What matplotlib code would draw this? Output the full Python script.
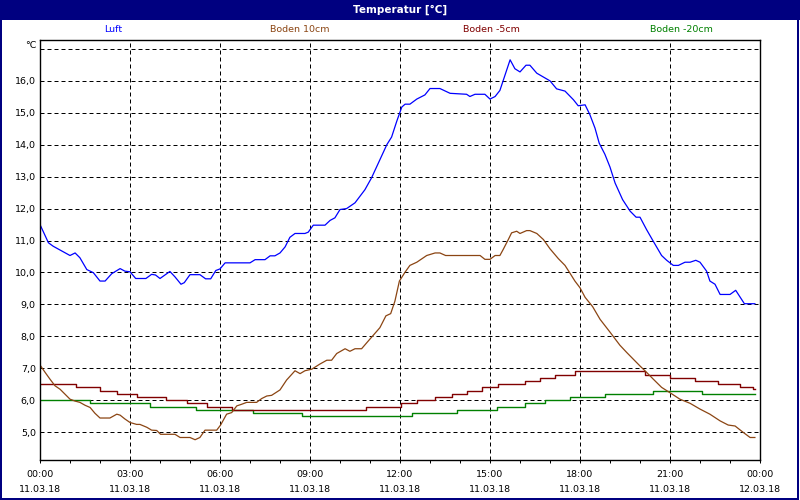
import matplotlib
matplotlib.use("Agg")
import matplotlib.pyplot as plt
import numpy as np
from matplotlib.patches import Rectangle
from matplotlib.ticker import MultipleLocator, FuncFormatter

# hours since 11.03.18 00:00
luft_t = [0.0, 0.28, 0.44, 1.0, 1.17, 1.33, 1.56, 1.78, 2.0, 2.17, 2.39, 2.67, 2.83, 3.0,
          3.19, 3.53, 3.72, 3.85, 4.0, 4.33, 4.5, 4.7, 4.81, 5.0, 5.33, 5.52, 5.69, 5.86,
          6.0, 6.17, 7.0, 7.17, 7.5, 7.67, 7.83, 8.0, 8.17, 8.33, 8.5, 8.83, 8.94, 9.11,
          9.5, 9.67, 9.83, 10.0, 10.22, 10.5, 10.83, 11.05, 11.33, 11.56, 11.72, 11.89,
          12.06, 12.17, 12.33, 12.56, 12.83, 13.0, 13.33, 13.67, 14.22, 14.33, 14.5,
          14.83, 15.0, 15.17, 15.33, 15.67, 15.83, 16.0, 16.2, 16.33, 16.56, 17.0, 17.22,
          17.5, 17.78, 17.94, 18.17, 18.33, 18.5, 18.64, 18.83, 19.0, 19.17, 19.42,
          19.67, 19.87, 20.0, 20.22, 20.44, 20.72, 20.89, 21.11, 21.28, 21.5, 21.67,
          21.86, 22.0, 22.22, 22.33, 22.5, 22.67, 23.0, 23.19, 23.48, 23.83]
luft = [11.5, 10.93, 10.82, 10.53, 10.61, 10.46, 10.09, 9.99, 9.73, 9.73, 9.96, 10.12,
        10.04, 10.02, 9.81, 9.81, 9.94, 9.92, 9.81, 10.03, 9.86, 9.63, 9.68, 9.93, 9.93,
        9.8, 9.8, 10.06, 10.11, 10.3, 10.3, 10.4, 10.4, 10.52, 10.52, 10.61, 10.8, 11.1,
        11.22, 11.22, 11.26, 11.48, 11.48, 11.63, 11.71, 11.97, 12.0, 12.18, 12.59,
        12.96, 13.53, 14.0, 14.24, 14.73, 15.18, 15.27, 15.27, 15.43, 15.56, 15.76,
        15.76, 15.61, 15.58, 15.51, 15.58, 15.58, 15.43, 15.51, 15.7, 16.66, 16.38,
        16.28, 16.49, 16.49, 16.24, 16.0, 15.75, 15.68, 15.41, 15.22, 15.25, 14.94,
        14.52, 14.05, 13.7, 13.3, 12.8, 12.28, 11.92, 11.73, 11.73, 11.34, 10.98, 10.53,
        10.38, 10.22, 10.22, 10.32, 10.32, 10.38, 10.32, 10.04, 9.73, 9.63, 9.31, 9.31,
        9.44, 9.02, 9.02]

boden10_t = [0.0, 0.17, 0.33, 0.5, 0.67, 0.83, 1.0, 1.17, 1.33, 1.5, 1.67, 1.83, 2.0,
             2.33, 2.56, 2.67, 2.83, 3.0, 3.22, 3.33, 3.56, 3.72, 3.89, 4.02, 4.5, 4.67,
             5.0, 5.17, 5.33, 5.5, 5.89, 6.02, 6.22, 6.39, 6.56, 6.72, 6.89, 7.22, 7.39,
             7.56, 7.72, 8.0, 8.22, 8.5, 8.67, 8.83, 9.06, 9.33, 9.56, 9.72, 9.89, 10.17,
             10.33, 10.5, 10.72, 10.94, 11.33, 11.53, 11.69, 11.83, 11.98, 12.17, 12.33,
             12.56, 12.89, 13.17, 13.33, 13.52, 14.67, 14.83, 15.0, 15.17, 15.33, 15.44,
             15.61, 15.72, 15.89, 16.0, 16.22, 16.33, 16.56, 16.78, 17.0, 17.28, 17.5,
             17.67, 17.83, 18.0, 18.17, 18.42, 18.67, 19.0, 19.33, 19.56, 19.78, 20.0,
             20.22, 20.44, 20.72, 21.02, 21.33, 21.67, 22.0, 22.33, 22.67, 22.94, 23.17,
             23.44, 23.67, 23.83]
boden10 = [7.1, 6.87, 6.66, 6.45, 6.34, 6.19, 6.03, 5.97, 5.93, 5.84, 5.77, 5.59, 5.44,
           5.44, 5.56, 5.53, 5.41, 5.3, 5.24, 5.24, 5.15, 5.06, 5.05, 4.93, 4.93, 4.83,
           4.83, 4.76, 4.83, 5.06, 5.06, 5.22, 5.56, 5.61, 5.82, 5.87, 5.93, 5.93, 6.05,
           6.13, 6.15, 6.32, 6.63, 6.92, 6.83, 6.92, 6.97, 7.13, 7.25, 7.25, 7.46, 7.61,
           7.53, 7.61, 7.61, 7.85, 8.27, 8.64, 8.71, 9.1, 9.73, 10.01, 10.22, 10.32,
           10.53, 10.61, 10.61, 10.53, 10.53, 10.41, 10.41, 10.53, 10.53, 10.72, 11.03,
           11.24, 11.29, 11.22, 11.31, 11.31, 11.22, 11.03, 10.74, 10.43, 10.22, 9.97,
           9.73, 9.52, 9.22, 8.93, 8.53, 8.13, 7.72, 7.49, 7.28, 7.07, 6.87, 6.66, 6.4,
           6.22, 6.03, 5.9, 5.72, 5.56, 5.35, 5.22, 5.19, 4.99, 4.83, 4.83]

boden5_t = [0.0, 1.19, 2.0, 2.58, 3.22, 4.2, 4.89, 5.56, 6.4, 10.87, 12.02, 12.56, 13.17,
            13.72, 14.22, 14.72, 15.28, 16.17, 16.67, 17.17, 17.83, 20.17, 21.0, 21.83,
            22.61, 23.33, 23.75, 23.83]
boden5 = [6.5, 6.4, 6.3, 6.2, 6.1, 6.0, 5.9, 5.8, 5.7, 5.8, 5.9, 6.0, 6.1, 6.2, 6.3, 6.4,
          6.5, 6.6, 6.7, 6.8, 6.9, 6.8, 6.7, 6.6, 6.5, 6.4, 6.35, 6.35]

boden20_t = [0.0, 1.67, 3.67, 5.2, 7.1, 8.72, 12.39, 13.89, 15.22, 16.17, 16.83, 17.67,
             18.83, 20.44, 22.06, 23.83]
boden20 = [6.0, 5.9, 5.8, 5.7, 5.6, 5.5, 5.6, 5.7, 5.8, 5.9, 6.0, 6.1, 6.2, 6.3, 6.2, 6.2]

series_names = ["Luft", "Boden 10cm", "Boden -5cm", "Boden -20cm"]
series_colors = ["#0000FF", "#8B4513", "#800000", "#008000"]
tick_hours = [0, 3, 6, 9, 12, 15, 18, 21, 24]
tick_times = ["00:00", "03:00", "06:00", "09:00", "12:00", "15:00", "18:00", "21:00", "00:00"]
tick_dates = ["11.03.18"] * 8 + ["12.03.18"]

navy = "#000080"
px = 0.72
font = "DejaVu Sans"

fig = plt.figure(figsize=(8, 5), dpi=100)
fig.patch.set_facecolor("white")
ax = fig.add_axes([40 / 800, 40 / 500, 720 / 800, 420 / 500])

ax.plot(boden20_t, boden20, color=series_colors[3], lw=1.0, drawstyle="steps-post")
ax.plot(boden5_t, boden5, color=series_colors[2], lw=1.0, drawstyle="steps-post")
ax.plot(boden10_t, boden10, color=series_colors[1], lw=0.9)
ax.plot(luft_t, luft, color=series_colors[0], lw=0.9)

ax.set_xlim(0, 24)
ax.set_ylim(4.125, 17.28)
ax.set_yticks(np.arange(5, 18, 1))
ax.yaxis.set_major_formatter(FuncFormatter(lambda v, p: "" if v > 16.5 else f"{v:.1f}".replace(".", ",")))
ax.set_xticks(tick_hours)
ax.set_xticklabels([f"{a}\n{b}" for a, b in zip(tick_times, tick_dates)])
ax.xaxis.set_minor_locator(MultipleLocator(1))

ax.grid(True, which="major", color="black", lw=px, linestyle=(0, (4, 3)))
ax.tick_params(axis="y", length=0, pad=3, labelsize=6.8, labelfontfamily=font)
ax.tick_params(axis="x", which="both", direction="out", length=3 * px, width=px,
               pad=5, labelsize=6.8, labelfontfamily=font)
for lab in ax.get_xticklabels():
    lab.set_linespacing(1.9)
for s in ax.spines.values():
    s.set_linewidth(1.0)
    s.set_color("black")

# title bar and frame
fig.patches.append(Rectangle((0, 1 - 20 / 500), 1, 20 / 500, transform=fig.transFigure,
                             facecolor=navy, edgecolor="none", zorder=0))
fig.patches.append(Rectangle((0.001, 0.002), 0.997, 0.996, transform=fig.transFigure,
                             facecolor="none", edgecolor=navy, lw=2 * px, zorder=0))
fig.text(0.5, 1 - 10 / 500, "Temperatur [°C]", color="white", fontsize=7.5,
         fontweight="bold", ha="center", va="center", family=font)

# series labels above the plot
label_x = [113, 300, 491, 681]
for name, col, x in zip(series_names, series_colors, label_x):
    fig.text(x / 800, 1 - 30 / 500, name, color=col, fontsize=6.8, ha="center",
             va="center", family=font)

fig.text(37 / 800, 1 - 45 / 500, "°C", fontsize=6.8, ha="right", va="center", family=font)

fig.savefig("out.png", dpi=100)
